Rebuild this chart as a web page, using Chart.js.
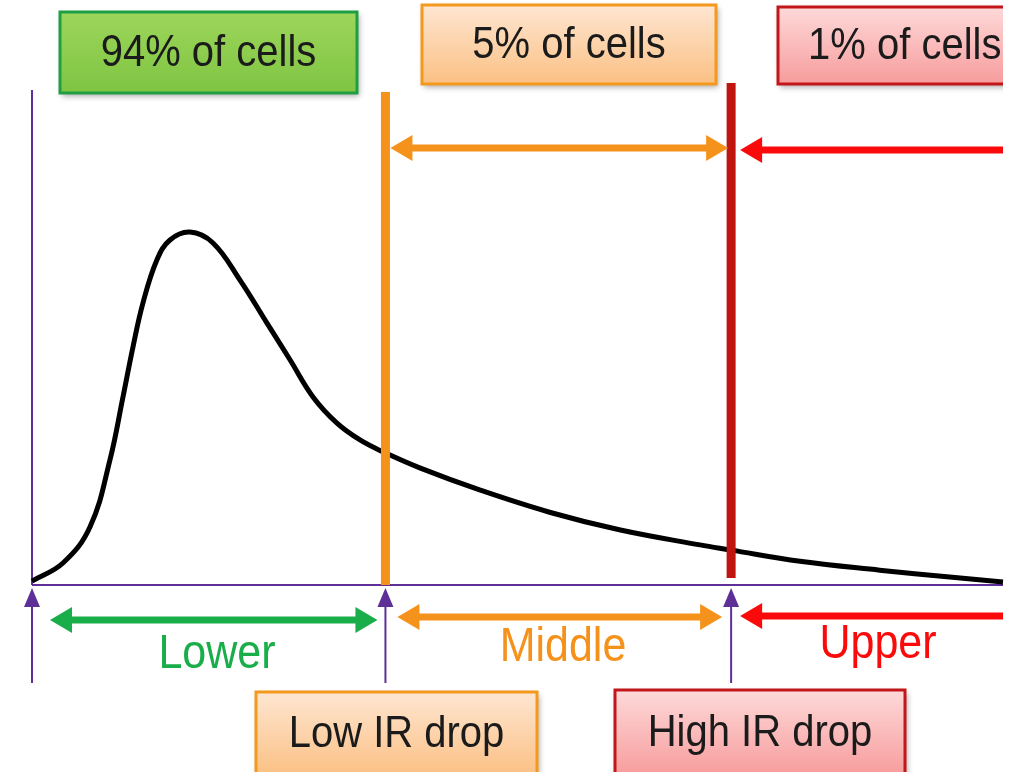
<!DOCTYPE html>
<html>
<head>
<meta charset="utf-8">
<script src="https://cdn.jsdelivr.net/npm/chart.js@4"></script>
<style>
  html, body { margin: 0; padding: 0; background: #fff; }
  #wrap { width: 1020px; height: 772px; }
</style>
</head>
<body>
<div id="wrap"><canvas id="js-dist-chart" width="1020" height="772"></canvas></div>
<script>
// curve (x: IR drop, 0..100 ; y: share of cells, 0..100)
const curveX = [0, 3.19, 5.97, 8.03, 9.37, 10.4, 11.43, 12.87, 14.21, 16.27, 18.64, 21.42, 24.2, 26.57, 28.94, 31.41, 33.78, 36.15, 40.0, 46.1, 53.3, 60.6, 68.8, 71.9, 79.1, 87.3, 94.5, 100]
const curveY = [0.8, 4.44, 11.7, 25.3, 38.0, 48.1, 57.0, 65.7, 69.7, 71.3, 69.1, 61.6, 52.9, 45.5, 38.0, 32.7, 29.3, 26.9, 23.6, 19.2, 14.7, 11.1, 8.1, 7.1, 4.8, 3.0, 1.6, 0.6]

// thresholds on the x axis: origin, low IR drop, high IR drop, end
const thresholds = [0, 36.4, 72.0, 100]
const regionLabels = ['Lower', 'Middle', 'Upper']
const shareLabels = ['94% of cells', '5% of cells', '1% of cells']
const dropLabels = ['Low IR drop', 'High IR drop']

const purple = '#5f2f98'
const green = '#1aae4a'
const orange = '#f5921b'
const red = '#fa0a0a'
const darkRed = '#c0140e'
const FONT = '"Liberation Sans", Arial, sans-serif'

// box layout (pixels)
const topBoxes = [
  { x: 60, y: 12, w: 297, h: 81, top: '#9dd65a', bot: '#7fc443', border: '#1f9e44', align: 'center' },
  { x: 422, y: 5, w: 294, h: 79, top: '#fee6d2', bot: '#fbc083', border: '#f39a1e', align: 'center' },
  { x: 778, y: 7, w: 240, h: 77, top: '#fed9d9', bot: '#f79c9c', border: '#c2161a', align: 'left', pad: 30 }
]
const bottomBoxes = [
  { x: 256, y: 692, w: 281, h: 84, top: '#fee6d2', bot: '#fbc083', border: '#f39a1e' },
  { x: 615, y: 690, w: 290, h: 86, top: '#fed9d9', bot: '#f79c9c', border: '#c2161a' }
]
const regionColors = [green, orange, red]

function arrow(ctx, x1, x2, y, color, leftHead, rightHead) {
  const hl = 22, hw = 13, sw = 7
  ctx.save()
  ctx.fillStyle = color
  const s1 = leftHead ? x1 + hl - 2 : x1
  const s2 = rightHead ? x2 - hl + 2 : x2
  ctx.fillRect(s1, y - sw / 2, s2 - s1, sw)
  if (leftHead) {
    ctx.beginPath()
    ctx.moveTo(x1, y); ctx.lineTo(x1 + hl, y - hw); ctx.lineTo(x1 + hl, y + hw); ctx.closePath(); ctx.fill()
  }
  if (rightHead) {
    ctx.beginPath()
    ctx.moveTo(x2, y); ctx.lineTo(x2 - hl, y - hw); ctx.lineTo(x2 - hl, y + hw); ctx.closePath(); ctx.fill()
  }
  ctx.restore()
}

// text slightly stretched vertically, like the original slide font
function tallText(ctx, text, x, y) {
  ctx.save()
  ctx.translate(x, y)
  ctx.scale(1, 1.12)
  ctx.fillText(text, 0, 0)
  ctx.restore()
}

function box(ctx, b, text) {
  ctx.save()
  ctx.shadowColor = 'rgba(0,0,0,0.35)'
  ctx.shadowBlur = 6
  ctx.shadowOffsetX = 2
  ctx.shadowOffsetY = 3
  const g = ctx.createLinearGradient(0, b.y, 0, b.y + b.h)
  g.addColorStop(0, b.top)
  g.addColorStop(1, b.bot)
  ctx.fillStyle = g
  ctx.fillRect(b.x, b.y, b.w, b.h)
  ctx.shadowColor = 'transparent'
  ctx.strokeStyle = b.border
  ctx.lineWidth = 3
  ctx.strokeRect(b.x, b.y, b.w, b.h)
  ctx.fillStyle = '#1b1b1b'
  ctx.font = '40px ' + FONT
  ctx.textBaseline = 'middle'
  if (b.align === 'left') {
    ctx.textAlign = 'left'
    tallText(ctx, text, b.x + b.pad, b.y + b.h / 2 + 1)
  } else {
    ctx.textAlign = 'center'
    tallText(ctx, text, b.x + b.w / 2, b.y + b.h / 2 + 1)
  }
  ctx.restore()
}

const diagramPlugin = {
  id: 'diagram',
  beforeDatasetsDraw(chart) {
    const ctx = chart.ctx
    const xs = chart.scales.x, ys = chart.scales.y
    const x0 = xs.getPixelForValue(thresholds[0])
    const xEnd = xs.getPixelForValue(thresholds[3])
    const yb = ys.getPixelForValue(0)
    ctx.save()
    ctx.strokeStyle = purple
    ctx.lineWidth = 2
    ctx.beginPath()
    ctx.moveTo(x0, chart.chartArea.top); ctx.lineTo(x0, yb)
    ctx.moveTo(x0, yb); ctx.lineTo(xEnd, yb)
    ctx.stroke()
    ctx.restore()
  },
  afterDatasetsDraw(chart) {
    const ctx = chart.ctx
    const xs = chart.scales.x, ys = chart.scales.y
    const px = thresholds.map(v => xs.getPixelForValue(v))
    const yb = ys.getPixelForValue(0)
    const top = chart.chartArea.top

    ctx.save()
    ctx.beginPath()
    ctx.rect(0, 0, px[3], chart.height)
    ctx.clip()

    // threshold lines
    ctx.fillStyle = orange
    ctx.fillRect(px[1] - 4.5, top + 2, 9, yb - top - 2)
    ctx.fillStyle = darkRed
    ctx.fillRect(px[2] - 4.5, top - 7, 9, yb - top)

    // purple tick arrows under the axis
    ctx.strokeStyle = purple
    ctx.fillStyle = purple
    ctx.lineWidth = 2
    px.slice(0, 3).forEach(x => {
      ctx.beginPath(); ctx.moveTo(x, yb + 10); ctx.lineTo(x, yb + 98); ctx.stroke()
      ctx.beginPath(); ctx.moveTo(x, yb + 3); ctx.lineTo(x - 8, yb + 22); ctx.lineTo(x + 8, yb + 22); ctx.closePath(); ctx.fill()
    })

    // top range arrows
    arrow(ctx, px[1] + 5, px[2] - 3, top + 58, orange, true, true)
    arrow(ctx, px[2] + 9, px[3] + 20, top + 60, red, true, false)

    // bottom range arrows
    arrow(ctx, px[0] + 18, px[1] - 8, yb + 35, green, true, true)
    arrow(ctx, px[1] + 12, px[2] - 9, yb + 32, orange, true, true)
    arrow(ctx, px[2] + 9, px[3] + 20, yb + 31, red, true, false)

    // region labels
    ctx.font = '43px ' + FONT
    ctx.textAlign = 'center'
    ctx.textBaseline = 'middle'
    const labelX = [217, 563, 878]
    const labelY = [yb + 70, yb + 63, yb + 60]
    regionLabels.forEach((t, i) => {
      ctx.fillStyle = regionColors[i]
      tallText(ctx, t, labelX[i], labelY[i])
    })

    // boxes
    topBoxes.forEach((b, i) => box(ctx, b, shareLabels[i]))
    bottomBoxes.forEach((b, i) => box(ctx, b, dropLabels[i]))
    ctx.restore()
  }
}

const ctxEl = document.getElementById('js-dist-chart').getContext('2d')

const distChart = new Chart(ctxEl, {
  type: 'line',
  data: {
    datasets: [
      {
        label: 'IR drop distribution',
        data: curveX.map((x, i) => ({ x: x, y: curveY[i] })),
        borderColor: '#000',
        borderWidth: 5,
        pointRadius: 0,
        fill: false,
        tension: 0.4,
        clip: false
      }
    ]
  },
  options: {
    responsive: false,
    animation: false,
    layout: { padding: { left: 32, right: 17, top: 90, bottom: 187 } },
    scales: {
      x: { type: 'linear', min: 0, max: 100, display: false },
      y: { min: 0, max: 100, display: false }
    },
    plugins: {
      legend: { display: false },
      tooltip: { enabled: false }
    }
  },
  plugins: [diagramPlugin]
})
</script>
</body>
</html>
